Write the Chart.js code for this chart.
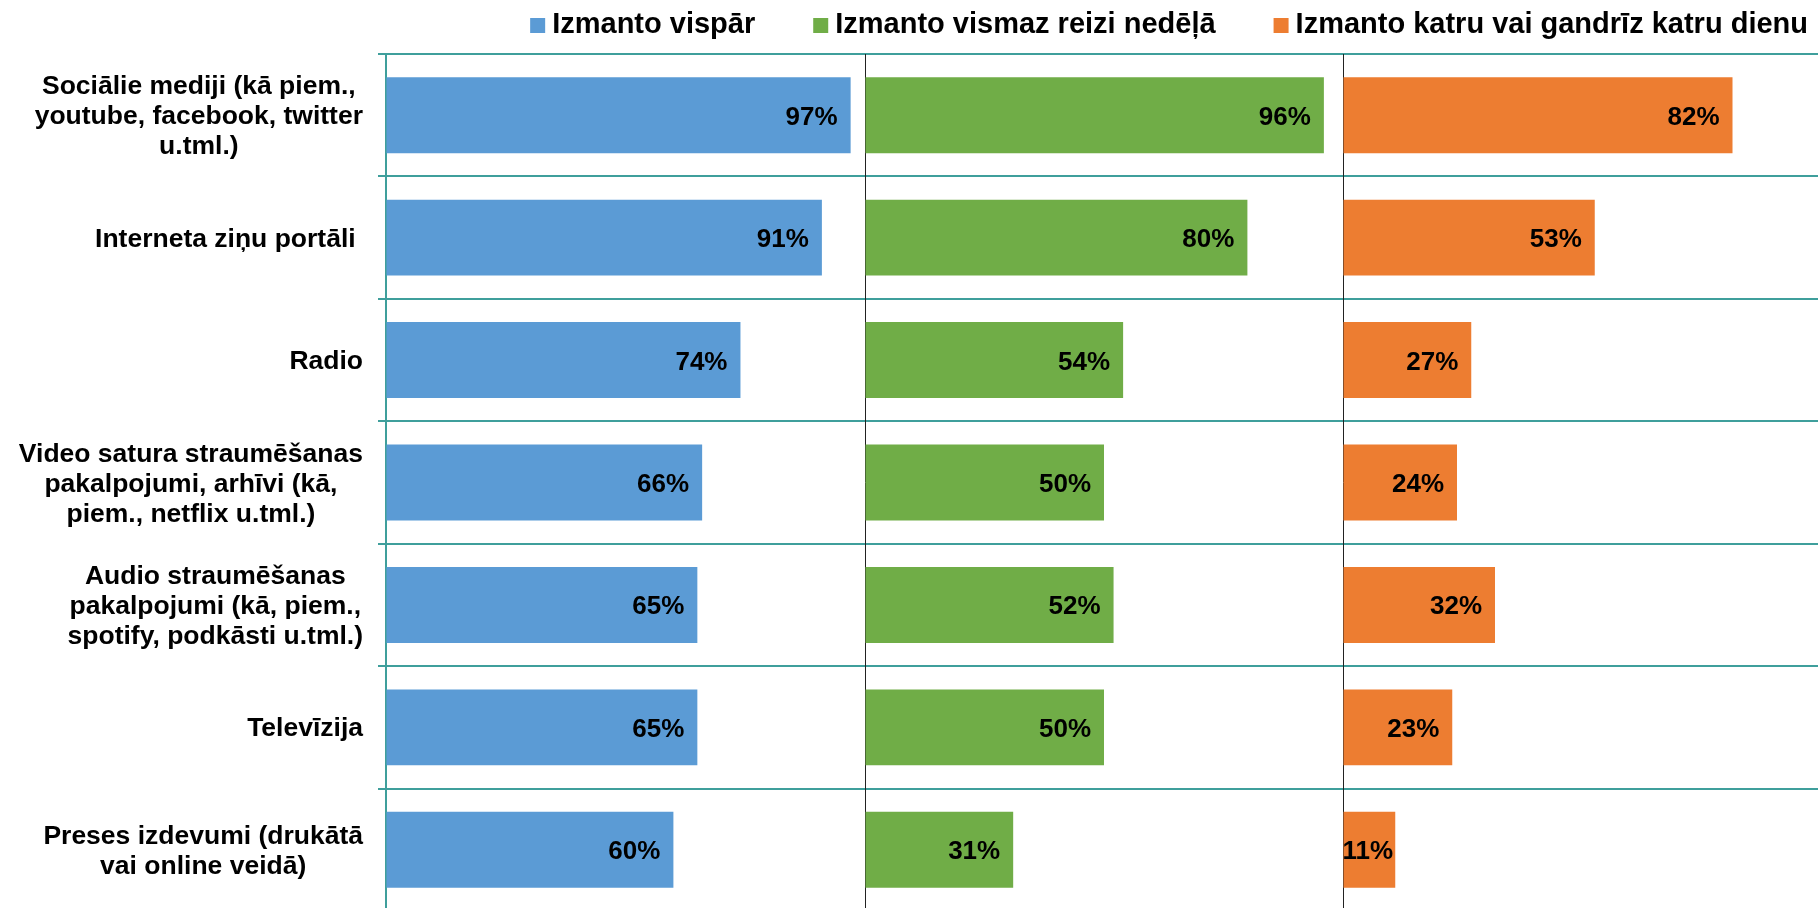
<!DOCTYPE html>
<html>
<head>
<meta charset="utf-8">
<script src="https://cdn.jsdelivr.net/npm/chart.js@4/dist/chart.umd.min.js"></script>
<style>
    html, body { margin: 0; padding: 0; background: #fff; overflow: hidden; }
    #wrap { position: relative; width: 1818px; height: 912px; }
</style>
</head>
<body>
<div id="wrap"><canvas id="mediaChart"></canvas></div>
<script>
// categories (multi-line where the original wraps)
const categories = [
    ["Sociālie mediji (kā piem.,", "youtube, facebook, twitter", "u.tml.)"],
    ["Interneta ziņu portāli "],
    ["Radio"],
    ["Video satura straumēšanas", "pakalpojumi, arhīvi (kā,", "piem., netflix u.tml.)"],
    ["Audio straumēšanas", "pakalpojumi (kā, piem.,", "spotify, podkāsti u.tml.)"],
    ["Televīzija"],
    ["Preses izdevumi (drukātā", "vai online veidā)"]
];

const seriesNames = ["Izmanto vispār", "Izmanto vismaz reizi nedēļā", "Izmanto katru vai gandrīz katru dienu"];

const usesAtAll = [97, 91, 74, 66, 65, 65, 60];
const usesWeekly = [96, 80, 54, 50, 52, 50, 31];
const usesDaily = [82, 53, 27, 24, 32, 23, 11];

const seriesColors = ["#5B9BD5", "#70AD47", "#ED7D31"];
const tealLine = "#3f9f9c";
const FONT = '"Liberation Sans", Arial, sans-serif';

// category labels: block right aligned to the axis, lines centred inside the block
const categoryLabels = {
    id: "categoryLabels",
    afterDraw(chart) {
        const ctx = chart.ctx;
        const yScale = chart.scales.y;
        const right = chart.chartArea.left - 23;
        const lineH = 30;
        ctx.save();
        ctx.font = "bold 26.5px " + FONT;
        ctx.fillStyle = "#000";
        ctx.textAlign = "center";
        ctx.textBaseline = "alphabetic";
        categories.forEach((lines, i) => {
            const w = Math.max(...lines.map(l => ctx.measureText(l).width));
            const cx = right - w / 2;
            const cy = yScale.getPixelForValue(i);
            lines.forEach((l, j) => {
                ctx.fillText(l, cx, cy + (j - (lines.length - 1) / 2) * lineH + 9);
            });
        });
        ctx.restore();
    }
};

// value labels at the inside end of each bar
const valueLabels = {
    id: "valueLabels",
    afterDatasetsDraw(chart) {
        const ctx = chart.ctx;
        ctx.save();
        ctx.font = "bold 26px " + FONT;
        ctx.fillStyle = "#000";
        ctx.textAlign = "left";
        ctx.textBaseline = "alphabetic";
        chart.data.datasets.forEach((ds, di) => {
            chart.getDatasetMeta(di).data.forEach((bar, i) => {
                const txt = ds.data[i] + "%";
                const w = ctx.measureText(txt).width;
                let left = bar.x - 13 - w;
                if (left < bar.base) left = bar.base - 1;
                ctx.fillText(txt, left, bar.y + 9.5);
            });
        });
        ctx.restore();
    }
};

// legend across the top, right aligned
const topLegend = {
    id: "topLegend",
    afterDraw(chart) {
        const ctx = chart.ctx;
        const box = 15, gap = 7, spacing = 58;
        ctx.save();
        ctx.font = "bold 29px " + FONT;
        ctx.textBaseline = "alphabetic";
        ctx.textAlign = "left";
        const items = chart.data.datasets.map(ds => ({
            text: ds.label,
            color: ds.backgroundColor,
            w: ctx.measureText(ds.label).width
        }));
        const total = items.reduce((s, it) => s + box + gap + it.w, 0) + spacing * (items.length - 1);
        let x = chart.width - 10 - total;
        items.forEach(it => {
            ctx.fillStyle = it.color;
            ctx.fillRect(x, 18, box, box);
            ctx.fillStyle = "#000";
            ctx.fillText(it.text, x + box + gap, 33);
            x += box + gap + it.w + spacing;
        });
        ctx.restore();
    }
};

function panelAxis(weight, lineColor) {
    return {
        type: "linear",
        position: "bottom",
        stack: "panels",
        stackWeight: weight,
        min: 0,
        max: 100,
        ticks: { display: false },
        border: { display: false },
        grid: {
            drawTicks: false,
            lineWidth: 1,
            color: c => (c.tick && c.tick.value === 0 && lineColor) ? lineColor : "transparent"
        }
    };
}

const seriesData = [usesAtAll, usesWeekly, usesDaily];

new Chart(document.getElementById("mediaChart"), {
    type: "bar",
    data: {
        labels: categories,
        datasets: seriesData.map((d, i) => ({
            label: seriesNames[i],
            data: d,
            backgroundColor: seriesColors[i],
            xAxisID: "x" + (i + 1),
            grouped: false,
            categoryPercentage: 1,
            barPercentage: 0.62,
            borderWidth: 0
        }))
    },
    options: {
        indexAxis: "y",
        responsive: true,
        maintainAspectRatio: false,
        animation: false,
        layout: { padding: { left: 378, right: 0, top: 54, bottom: 1 } },
        plugins: {
            legend: { display: false },
            tooltip: { enabled: false }
        },
        scales: {
            y: {
                type: "category",
                offset: true,
                ticks: { display: false },
                grid: { offset: true, color: tealLine, lineWidth: 2, drawTicks: true, tickLength: 8 },
                border: { display: true, color: tealLine, width: 2 }
            },
            x1: panelAxis(479, null),
            x2: panelAxis(478, "#222"),
            x3: panelAxis(475, "#222")
        }
    },
    plugins: [categoryLabels, valueLabels, topLegend]
});
</script>
</body>
</html>
